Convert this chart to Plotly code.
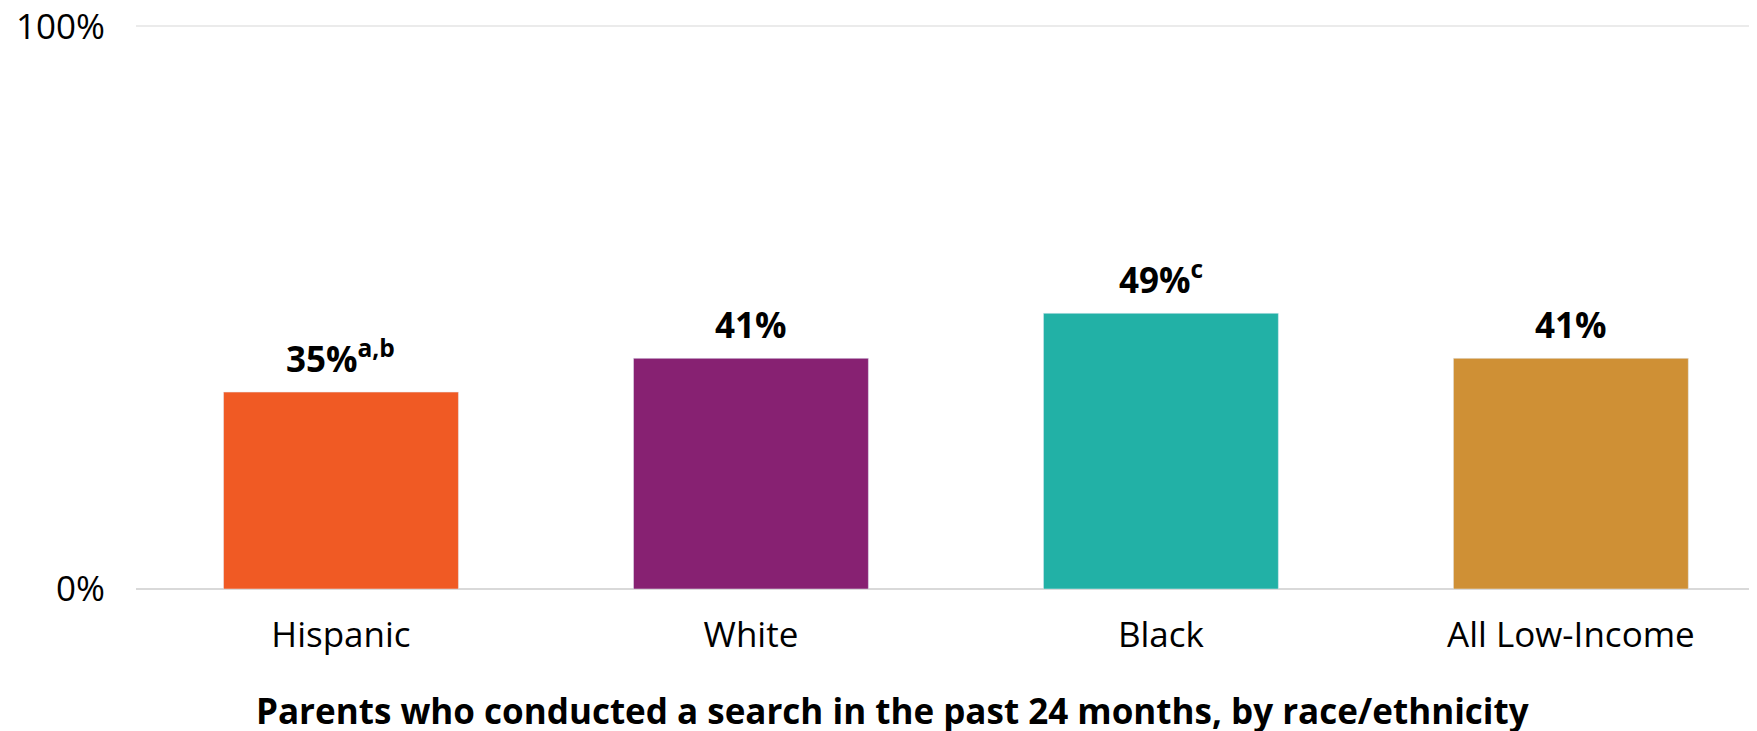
import plotly.graph_objects as go

categories = ["Hispanic", "White", "Black", "All Low-Income"]
values = [35, 41, 49, 41]
value_labels = ["35%<sup>a,b</sup>", "41%", "49%<sup>c</sup>", "41%"]
colors = ["#F05A24", "#872172", "#22B1A6", "#CF9035"]
y_ticks = [0, 100]
y_tick_labels = ["0%", "100%"]
x_title = "Parents who conducted a search in the past 24 months, by race/ethnicity"

FONT = "Open Sans, Noto Sans, sans-serif"

# page body has an 8px default margin; compensate so the plot sits where the reference does
OFF = 8
fig = go.Figure()
fig.add_trace(go.Bar(
    x=categories, y=values, marker_color=colors, width=0.573,
    hoverinfo="skip", showlegend=False,
))

for c, v, t in zip(categories, values, value_labels):
    fig.add_annotation(x=c, y=v, text="<b>" + t + "</b>", showarrow=False,
                       yanchor="bottom", yshift=8,
                       font=dict(family=FONT, size=35, color="#000000"))

fig.add_annotation(xref="paper", yref="paper", x=(892 - 136) / (1757 - 136), y=0,
                   yshift=-121, yanchor="middle", xanchor="center", showarrow=False,
                   text="<b>" + x_title + "</b>",
                   font=dict(family=FONT, size=35, color="#000000"))

fig.update_layout(
    width=1757 - OFF, height=731 - OFF,
    margin=dict(l=136 - OFF, r=0, t=15, b=142, pad=0),
    paper_bgcolor="white", plot_bgcolor="white",
    font=dict(family=FONT, size=35, color="#000000"),
    xaxis=dict(range=[-0.5, 3.454], showgrid=False, showline=False, zeroline=False,
               tickfont=dict(size=35), ticks="", ticklabelstandoff=22, automargin=False),
    yaxis=dict(range=[0, 100.6], tickvals=y_ticks, ticktext=y_tick_labels,
               showgrid=True, gridcolor="#EBEBEB", gridwidth=1.5,
               zeroline=True, zerolinecolor="#D9D9D9", zerolinewidth=2,
               showline=False, ticks="", ticklabelstandoff=30,
               ticklabeloverflow="allow",
               tickfont=dict(size=35), automargin=False),
)

fig.write_html("out.html")
